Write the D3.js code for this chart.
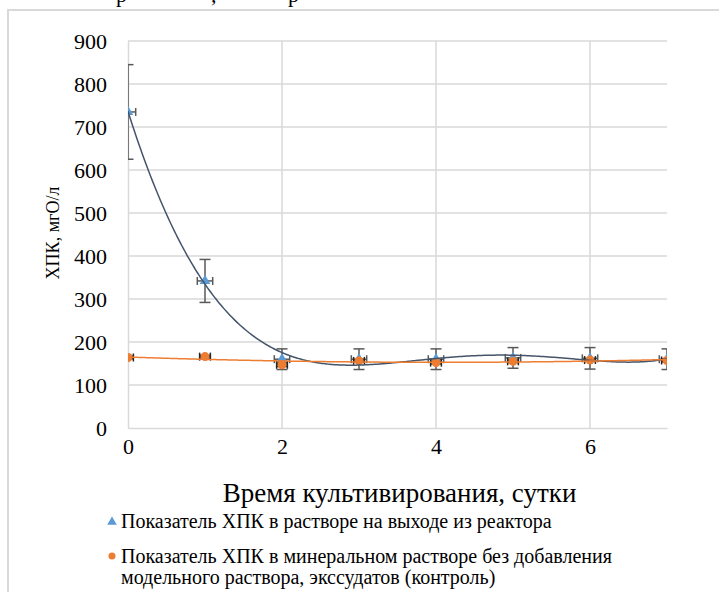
<!DOCTYPE html>
<html>
<head>
<meta charset="utf-8">
<script src="https://cdn.jsdelivr.net/npm/d3@7/dist/d3.min.js"></script>
</head>
<body style="margin:0">
<svg id="chart" width="719" height="592"></svg>
<script>
// Cultivation time, days
const days = [0, 1, 2, 3, 4, 5, 6, 7];
// COD at the reactor outlet, mgO/l, with its standard deviation
const codReactor = [735, 342, 160, 160, 160, 163, 162, 160];
const codReactorErr = [110, 50, 24, 24, 24, 24, 25, 24];
// COD in the mineral solution without additives (control), mgO/l
const codControl = [164, 166, 147, 156, 152, 155, 158, 157];
const codControlErr = [3, 3, 4, 3, 3, 3, 3, 3];
// horizontal spread of the sampling time, days
const dayErrReactor = 0.1;
const dayErrControl = 0.07;

const yTicks = [0, 100, 200, 300, 400, 500, 600, 700, 800, 900];
const xTicks = [0, 2, 4, 6];

const seriesNames = [
  "Показатель ХПК в растворе на выходе из реактора",
  "Показатель ХПК в минеральном растворе без добавления",
  "модельного раствора, экссудатов (контроль)"
];
const xTitle = "Время культивирования, сутки";
const yTitle = "ХПК, мгО/л";

const SERIF = "'Liberation Serif', 'Times New Roman', Tinos";

const svg = d3.select("#chart");
const plot = { left: 128, right: 667, top: 41, bottom: 428 };
const x = d3.scaleLinear().domain([0, 7]).range([plot.left, plot.right]);
const y = d3.scaleLinear().domain([0, 900]).range([plot.bottom, plot.top]);

// serif text styling
function serif(sel, size) {
  return sel.attr("font-family", SERIF).attr("font-size", size)
    .style("font-family", SERIF, "important").style("font-size", size + "px", "important");
}
function label(g, str, size) {
  return serif(g.append("text"), size).attr("fill", "#000").text(str);
}

// fragment of the running text above the chart frame
[["р", 116], [",", 211], ["р", 288]].forEach(([t, px]) => {
  label(svg, t, 22).attr("x", px).attr("y", 1.5);
});

// chart frame
svg.append("rect").attr("x", 8).attr("y", 10).attr("width", 730).attr("height", 620)
  .attr("fill", "#fff").attr("stroke", "#d9d9d9").attr("stroke-width", 2);

// gridlines
svg.append("g").selectAll("line").data(yTicks.slice(1)).join("line")
  .attr("x1", plot.left).attr("x2", plot.right)
  .attr("y1", d => y(d)).attr("y2", d => y(d))
  .attr("stroke", "#d9d9d9").attr("stroke-width", 1.5);
svg.append("g").selectAll("line").data(xTicks.slice(1)).join("line")
  .attr("x1", d => x(d)).attr("x2", d => x(d))
  .attr("y1", plot.top).attr("y2", plot.bottom)
  .attr("stroke", "#d9d9d9").attr("stroke-width", 1.5);

// axes
const yAxis = svg.append("g").attr("transform", `translate(${plot.left},0)`)
  .call(d3.axisLeft(y).tickValues(yTicks).tickFormat(d3.format("d")).tickSize(0).tickPadding(21));
const xAxis = svg.append("g").attr("transform", `translate(0,${plot.bottom})`)
  .call(d3.axisBottom(x).tickValues(xTicks).tickFormat(d3.format("d")).tickSize(0).tickPadding(10));
[yAxis, xAxis].forEach(a => {
  serif(a, 22);
  a.select(".domain").attr("stroke", "#d9d9d9").attr("stroke-width", 1.5);
  serif(a.selectAll("text"), 22).attr("fill", "#000");
});
yAxis.selectAll(".tick text").attr("dy", "0.34em");
xAxis.selectAll(".tick text").attr("dy", "0.74em");

// axis titles
label(svg, xTitle, 27).attr("x", (plot.left + plot.right) / 2 + 2).attr("y", 502)
  .attr("text-anchor", "middle");
label(svg, yTitle, 18).attr("transform", "translate(59,233) rotate(-90)")
  .attr("text-anchor", "middle");

// clip everything drawn on the data to the plot area
svg.append("clipPath").attr("id", "plotClip").append("rect")
  .attr("x", plot.left).attr("y", plot.top - 20)
  .attr("width", plot.right - plot.left).attr("height", plot.bottom - plot.top + 20);
const layer = svg.append("g").attr("clip-path", "url(#plotClip)");

// least-squares polynomial trend line
function polyfit(xs, ys, deg) {
  const s = 7;
  const n = deg + 1;
  const A = Array.from({ length: n }, () => new Array(n + 1).fill(0));
  xs.forEach((xv, k) => {
    const t = xv / s;
    for (let i = 0; i < n; i++) {
      for (let j = 0; j < n; j++) A[i][j] += Math.pow(t, i + j);
      A[i][n] += ys[k] * Math.pow(t, i);
    }
  });
  for (let c = 0; c < n; c++) {
    let p = c;
    for (let r = c + 1; r < n; r++) if (Math.abs(A[r][c]) > Math.abs(A[p][c])) p = r;
    [A[c], A[p]] = [A[p], A[c]];
    for (let r = 0; r < n; r++) {
      if (r === c) continue;
      const f = A[r][c] / A[c][c];
      for (let k = c; k <= n; k++) A[r][k] -= f * A[c][k];
    }
  }
  const coef = A.map((row, i) => row[n] / row[i]);
  return xv => coef.reduce((acc, cf, i) => acc + cf * Math.pow(xv / s, i), 0);
}

function errorBars(g, vals, errs, dayErr, color) {
  const capV = 5.5, capH = 4;
  days.forEach((d, i) => {
    const cx = x(d), cy = y(vals[i]);
    const y0 = y(vals[i] - errs[i]), y1 = y(vals[i] + errs[i]);
    const x0 = x(d - dayErr), x1 = x(d + dayErr);
    const segs = [
      [cx, y0, cx, y1], [cx - capV, y0, cx + capV, y0], [cx - capV, y1, cx + capV, y1],
      [x0, cy, x1, cy], [x0, cy - capH, x0, cy + capH], [x1, cy - capH, x1, cy + capH]
    ];
    g.selectAll(null).data(segs).join("line")
      .attr("x1", s => s[0]).attr("y1", s => s[1]).attr("x2", s => s[2]).attr("y2", s => s[3])
      .attr("stroke", color).attr("stroke-width", 1.5);
  });
}

const samples = d3.range(0, 7.0001, 0.02);
const line = f => d3.line().x(d => x(d)).y(d => y(f(d)));

// reactor outlet series
errorBars(layer.append("g"), codReactor, codReactorErr, dayErrReactor, "#595959");
const tri = d3.symbol().type(d3.symbolTriangle).size(50);
layer.append("g").selectAll("path").data(days).join("path")
  .attr("d", tri).attr("transform", (d, i) => `translate(${x(d)},${y(codReactor[i])})`)
  .attr("fill", "#5b9bd5");

// control series
errorBars(layer.append("g"), codControl, codControlErr, dayErrControl, "#262626");
layer.append("g").selectAll("circle").data(days).join("circle")
  .attr("cx", d => x(d)).attr("cy", (d, i) => y(codControl[i])).attr("r", 4.5)
  .attr("fill", "#ed7d31");

// trend lines
layer.append("path").datum(samples).attr("d", line(polyfit(days, codReactor, 5)))
  .attr("fill", "none").attr("stroke", "#44546a").attr("stroke-width", 1.5);
layer.append("path").datum(samples).attr("d", line(polyfit(days, codControl, 2)))
  .attr("fill", "none").attr("stroke", "#ed7d31").attr("stroke-width", 1.5);

// legend
const legend = svg.append("g");
legend.append("path").attr("d", d3.symbol().type(d3.symbolTriangle).size(40))
  .attr("transform", "translate(112,522)").attr("fill", "#5b9bd5");
legend.append("circle").attr("cx", 112).attr("cy", 556).attr("r", 3.5).attr("fill", "#ed7d31");
[[seriesNames[0], 528], [seriesNames[1], 563], [seriesNames[2], 584]].forEach(([t, py]) => {
  label(legend, t, 20).attr("x", 121).attr("y", py);
});
</script>
</body>
</html>
